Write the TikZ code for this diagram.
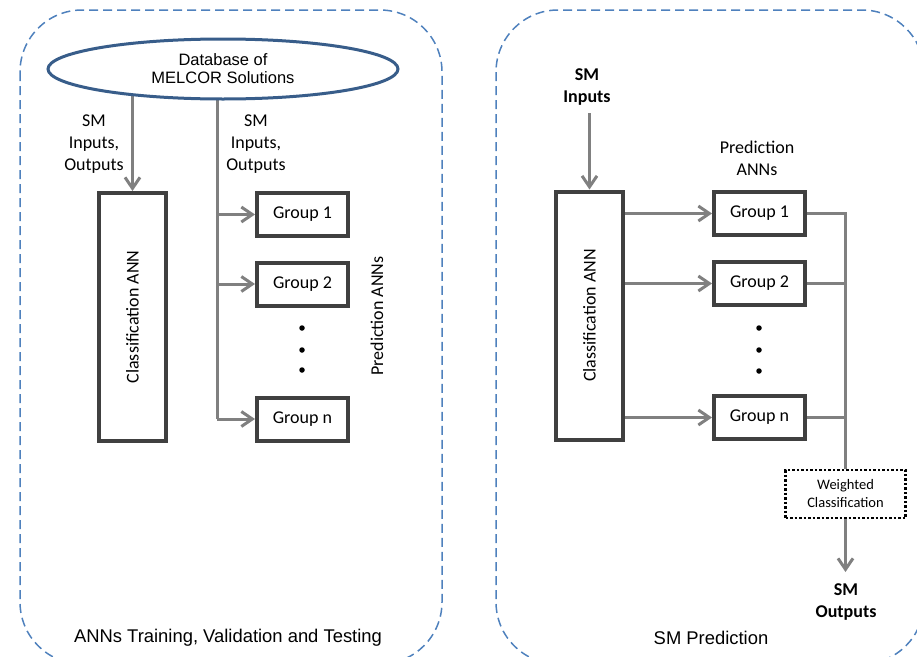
\documentclass[tikz,border=0pt]{standalone}
\usepackage{fontspec}
\setmainfont{Carlito}
\newfontfamily\arialf{Liberation Sans}
\usetikzlibrary{arrows.meta,shapes.geometric,backgrounds}
\definecolor{panelblue}{HTML}{4F81BD}
\definecolor{dbblue}{HTML}{385D8A}
\definecolor{boxgray}{HTML}{404040}
\definecolor{arrgray}{HTML}{808080}
\tikzset{
  panel/.style={draw=panelblue, line width=1.5pt, dash pattern=on 9pt off 5pt, rounded corners=62pt},
  bigbox/.style={draw=boxgray, line width=4pt, minimum width=67pt, minimum height=248pt, inner sep=0pt},
  grp/.style={draw=boxgray, line width=4pt, minimum width=91pt, minimum height=43pt, inner sep=0pt, font=\fontsize{18}{22}\selectfont},
  lbl/.style={align=center, inner sep=0pt, font=\fontsize{18}{22}\selectfont},
  blbl/.style={align=center, inner sep=0pt, font=\bfseries\fontsize{18}{22}\selectfont},
  ttl/.style={inner sep=0pt, font=\arialf\fontsize{18.4}{22}\selectfont},
  line/.style={draw=arrgray, line width=3pt},
  arr/.style={line, -{Straight Barb[length=11pt,width=15pt]}},
  dot/.style={circle, fill=black, inner sep=0pt, minimum size=5.5pt},
}
\begin{document}
\begin{tikzpicture}[x=1pt,y=-1pt]
\useasboundingbox (0,0) rectangle (917,656);
\clip (0,0) rectangle (917,656);
% panels
\draw[panel] (20,10) rectangle (442,664);
\draw[panel] (496,10) rectangle (924,664);
\node[ttl] (t1) at (228,638) {ANNs Training, Validation and Testing};
\node[ttl] (t2) at (711,638) {SM Prediction};

% ---- left panel ----
\node[bigbox] (cl) at (132.5,317) {};
\node[rotate=90, lbl] (cltxt) at (cl.center) {Classification ANN};
\node[grp] (g1) at (302.5,214.5) {Group 1};
\node[grp] (g2) at (302.5,284) {Group 2};
\node[grp] (gn) at (302.5,419) {Group n};
\node[dot] (d1) at (302,328) {};
\node[dot] (d2) at (302,350) {};
\node[dot] (d3) at (302,370) {};
\node[rotate=90, lbl] (pa1) at (377,316) {Prediction ANNs};
\node[lbl] (l1) at (94,144) {SM\\Inputs,\\Outputs};
\node[lbl] (l2) at (256,144) {SM\\Inputs,\\Outputs};
\coordinate (trunk) at (217,67);
\node[ellipse, draw=dbblue, line width=3pt, fill=white, minimum width=350pt, minimum height=60pt, inner sep=0pt, align=center, font=\arialf\fontsize{16.5}{18}\selectfont] (db) at (223,69) {Database of\\MELCOR Solutions};
\begin{scope}[on background layer]
\draw[arr] (db.center -| cl.north) -- (cl.north);
\draw[line] (trunk) -- (trunk |- gn.west);
\end{scope}
\draw[arr] (trunk |- g1.west) -- (g1.west);
\draw[arr] (trunk |- g2.west) -- (g2.west);
\draw[arr] (trunk |- gn.west) -- (gn.west);

% ---- right panel ----
\node[bigbox] (cr) at (589.5,315.5) {};
\node[rotate=90, lbl] (crtxt) at (cr.center) {Classification ANN};
\node[blbl] (smin) at (587,87) {SM\\Inputs};
\node[lbl] (pa2) at (757,158) {Prediction\\ANNs};
\node[grp] (h1) at (759.5,213.5) {Group 1};
\node[grp] (h2) at (759.5,283.5) {Group 2};
\node[grp] (hn) at (759.5,417.5) {Group n};
\node[dot] (e1) at (759,328) {};
\node[dot] (e2) at (759,350) {};
\node[dot] (e3) at (759,371) {};
\node[draw=black, line width=2.5pt, dotted, minimum width=120pt, minimum height=48pt, inner sep=0pt, align=center, font=\fontsize{14.5}{18}\selectfont] (wc) at (845.5,494) {Weighted\\Classification};
\node[blbl] (smout) at (846,602) {SM\\Outputs};
\coordinate (inStart) at (589.5,113);
\coordinate (outEnd) at (845.5,572);
\draw[arr] (inStart) -- (cr.north);
\draw[arr] (cr.east |- h1.west) -- (h1.west);
\draw[arr] (cr.east |- h2.west) -- (h2.west);
\draw[arr] (cr.east |- hn.west) -- (hn.west);
\draw[line] (h1.east) -- (h1.east -| wc.north) -- (wc.north);
\draw[line] (h2.east) -- (h2.east -| wc.north);
\draw[line] (hn.east) -- (hn.east -| wc.north);
\draw[arr] (wc.south) -- (outEnd);
\end{tikzpicture}
\end{document}
